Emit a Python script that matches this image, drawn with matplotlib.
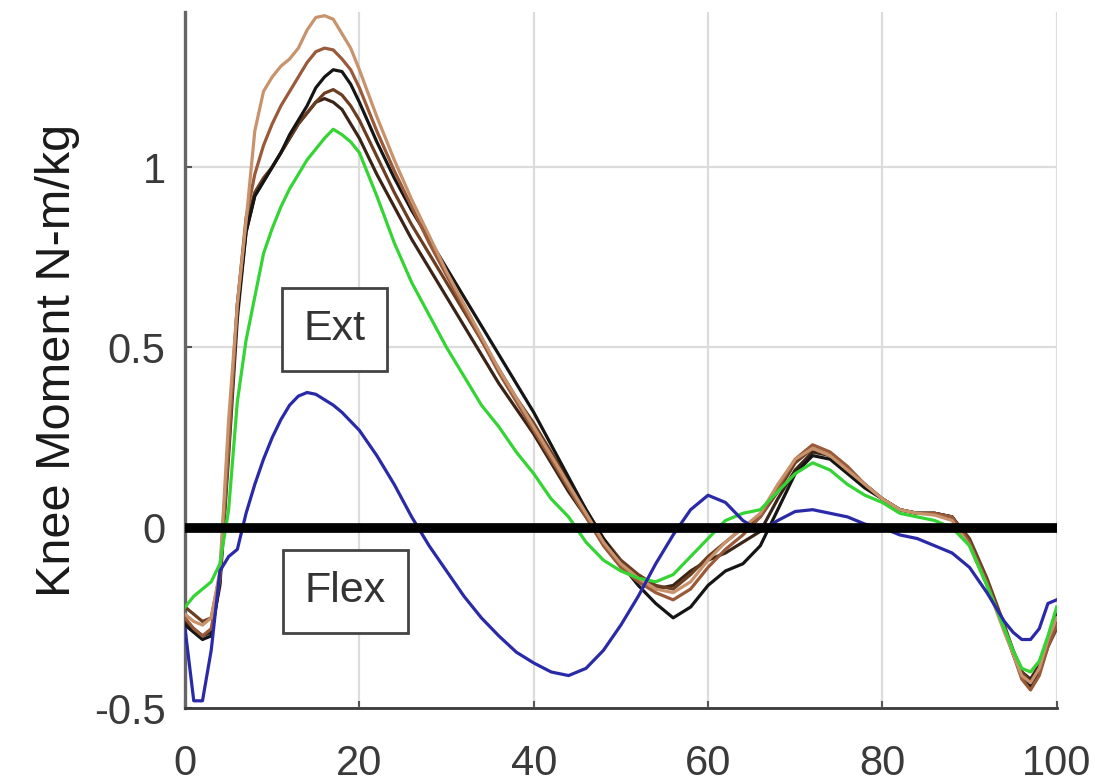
import matplotlib
matplotlib.use("Agg")
import matplotlib.pyplot as plt
import numpy as np

plt.rcParams['font.family'] = ['Liberation Sans', 'DejaVu Sans']

# gait cycle (%)
x = [0, 1, 2, 3, 4, 5, 6, 7, 8, 9, 10, 11, 12, 13, 14, 15, 16, 17, 18, 19, 20,
     22, 24, 26, 28, 30, 32, 34, 36, 38, 40, 42, 44, 46, 48, 50, 52, 54, 56, 58,
     60, 62, 64, 66, 68, 70, 72, 74, 76, 78, 80, 82, 84, 86, 88, 90, 92, 94,
     95, 96, 97, 98, 99, 100]

blue = [-0.28, -0.48, -0.48, -0.34, -0.12, -0.08, -0.06, 0.04, 0.12, 0.19, 0.25,
        0.30, 0.34, 0.365, 0.375, 0.37, 0.355, 0.34, 0.32, 0.295, 0.27,
        0.20, 0.12, 0.03, -0.05, -0.12, -0.19, -0.25, -0.30, -0.345, -0.375,
        -0.40, -0.41, -0.39, -0.34, -0.27, -0.19, -0.10, -0.02, 0.05, 0.09,
        0.07, 0.02, -0.01, 0.02, 0.045, 0.05, 0.04, 0.03, 0.01, 0.0, -0.02,
        -0.03, -0.05, -0.07, -0.11, -0.18, -0.26, -0.29, -0.31, -0.31, -0.28,
        -0.21, -0.20]

green = [-0.22, -0.19, -0.17, -0.15, -0.10, 0.05, 0.35, 0.52, 0.64, 0.76, 0.83,
         0.89, 0.94, 0.98, 1.02, 1.05, 1.08, 1.105, 1.09, 1.07, 1.04,
         0.92, 0.79, 0.68, 0.59, 0.50, 0.42, 0.34, 0.28, 0.21, 0.15,
         0.08, 0.03, -0.04, -0.09, -0.12, -0.14, -0.15, -0.13, -0.08, -0.03,
         0.02, 0.04, 0.05, 0.10, 0.15, 0.18, 0.16, 0.12, 0.09, 0.07, 0.04,
         0.03, 0.02, 0.0, -0.05, -0.16, -0.28, -0.34, -0.39, -0.40, -0.37,
         -0.30, -0.22]

tan = [-0.24, -0.26, -0.27, -0.25, -0.12, 0.30, 0.62, 0.85, 1.10, 1.21, 1.25,
       1.28, 1.30, 1.33, 1.38, 1.415, 1.42, 1.41, 1.37, 1.33, 1.27,
       1.14, 1.02, 0.91, 0.81, 0.71, 0.62, 0.53, 0.44, 0.36, 0.28,
       0.20, 0.12, 0.04, -0.04, -0.10, -0.14, -0.17, -0.18, -0.15, -0.09,
       -0.04, 0.0, 0.04, 0.12, 0.19, 0.22, 0.20, 0.16, 0.12, 0.08, 0.05,
       0.04, 0.035, 0.02, -0.05, -0.16, -0.29, -0.35, -0.41, -0.43, -0.39,
       -0.31, -0.25]

brown = [-0.25, -0.28, -0.30, -0.28, -0.14, 0.22, 0.62, 0.86, 0.98, 1.06, 1.12,
         1.17, 1.21, 1.25, 1.29, 1.32, 1.33, 1.325, 1.30, 1.27, 1.22,
         1.10, 0.99, 0.89, 0.79, 0.70, 0.61, 0.52, 0.43, 0.35, 0.27,
         0.19, 0.11, 0.03, -0.05, -0.11, -0.15, -0.18, -0.20, -0.17, -0.11,
         -0.06, -0.02, 0.03, 0.11, 0.19, 0.23, 0.21, 0.17, 0.12, 0.08, 0.05,
         0.04, 0.04, 0.03, -0.04, -0.15, -0.28, -0.35, -0.42, -0.45, -0.41,
         -0.33, -0.27]

black = [-0.27, -0.29, -0.31, -0.30, -0.15, 0.25, 0.60, 0.82, 0.92, 0.96, 1.00,
         1.04, 1.09, 1.13, 1.17, 1.22, 1.25, 1.27, 1.265, 1.23, 1.18,
         1.07, 0.97, 0.88, 0.80, 0.72, 0.64, 0.56, 0.48, 0.40, 0.32,
         0.23, 0.14, 0.05, -0.03, -0.10, -0.16, -0.21, -0.25, -0.22, -0.16,
         -0.12, -0.10, -0.05, 0.05, 0.15, 0.20, 0.19, 0.15, 0.11, 0.08, 0.05,
         0.04, 0.04, 0.03, -0.04, -0.15, -0.28, -0.35, -0.41, -0.44, -0.40,
         -0.32, -0.26]

darkbrown = [-0.22, -0.24, -0.26, -0.25, -0.13, 0.25, 0.62, 0.84, 0.93, 0.97, 1.00,
             1.04, 1.08, 1.12, 1.15, 1.18, 1.205, 1.215, 1.20, 1.17, 1.13,
             1.03, 0.93, 0.84, 0.76, 0.68, 0.60, 0.52, 0.44, 0.36, 0.29,
             0.21, 0.13, 0.05, -0.03, -0.09, -0.13, -0.16, -0.17, -0.13, -0.08,
             -0.04, 0.0, 0.03, 0.10, 0.18, 0.22, 0.20, 0.16, 0.12, 0.08, 0.05,
             0.04, 0.04, 0.03, -0.03, -0.14, -0.27, -0.34, -0.40, -0.43, -0.40,
             -0.33, -0.28]

blackbrown = [-0.26, -0.28, -0.30, -0.29, -0.16, 0.20, 0.58, 0.82, 0.92, 0.96, 1.00,
              1.04, 1.08, 1.12, 1.15, 1.18, 1.19, 1.18, 1.16, 1.12, 1.08,
              0.98, 0.89, 0.80, 0.72, 0.64, 0.56, 0.48, 0.40, 0.33, 0.26,
              0.18, 0.10, 0.03, -0.04, -0.10, -0.14, -0.17, -0.16, -0.12, -0.09,
              -0.07, -0.04, -0.01, 0.08, 0.16, 0.21, 0.20, 0.16, 0.12, 0.08, 0.05,
              0.04, 0.04, 0.03, -0.04, -0.15, -0.28, -0.34, -0.40, -0.42, -0.38,
              -0.31, -0.24]

series = [
    (blackbrown, '#3a2418'),
    (darkbrown, '#6b3e22'),
    (black, '#151515'),
    (brown, '#9a5a3a'),
    (tan, '#c8936c'),
    (green, '#35d435'),
    (blue, '#2a2aa8'),
]

xticks = [0, 20, 40, 60, 80, 100]
yticks = [-0.5, 0, 0.5, 1]
yticklabels = ['-0.5', '0', '0.5', '1']

fig = plt.figure(figsize=(10.95, 7.82), dpi=100)
ax = fig.add_axes([0.169, 0.0946, 0.796, 0.89])

for ys, c in series:
    ax.plot(x, ys, color=c, lw=2.3, zorder=3)

ax.axhline(0, color='black', lw=7, zorder=4)

ax.set_xlim(0, 100)
ax.set_ylim(-0.5, 1.43)
ax.set_xticks(xticks)
ax.set_yticks(yticks)
ax.set_yticklabels(yticklabels)
ax.grid(True, color='#dcdcdc', lw=1.6)
ax.set_axisbelow(True)
for s in ['top', 'right']:
    ax.spines[s].set_visible(False)
ax.spines['left'].set_color('#666666')
ax.spines['left'].set_linewidth(2.4)
ax.spines['bottom'].set_color('#3a3a3a')
ax.spines['bottom'].set_linewidth(2)
ax.tick_params(direction='in', length=5, width=1.5, color='#555555',
               labelsize=30, labelcolor='#3a3a3a')
ax.tick_params(axis='x', pad=26)
ax.tick_params(axis='y', pad=14)
ax.set_ylabel('Knee Moment N-m/kg', fontsize=35, color='#1a1a1a', labelpad=10)

box = dict(boxstyle='square,pad=0.5', fc='white', ec='#444444', lw=2)
ax.text(17.1, 0.55, 'Ext', ha='center', va='center', fontsize=31, color='#333333',
        zorder=5, bbox=box)
ax.text(18.4, -0.176, 'Flex', ha='center', va='center', fontsize=31, color='#333333',
        zorder=5, bbox=box)

fig.savefig('out.png', dpi=100)
